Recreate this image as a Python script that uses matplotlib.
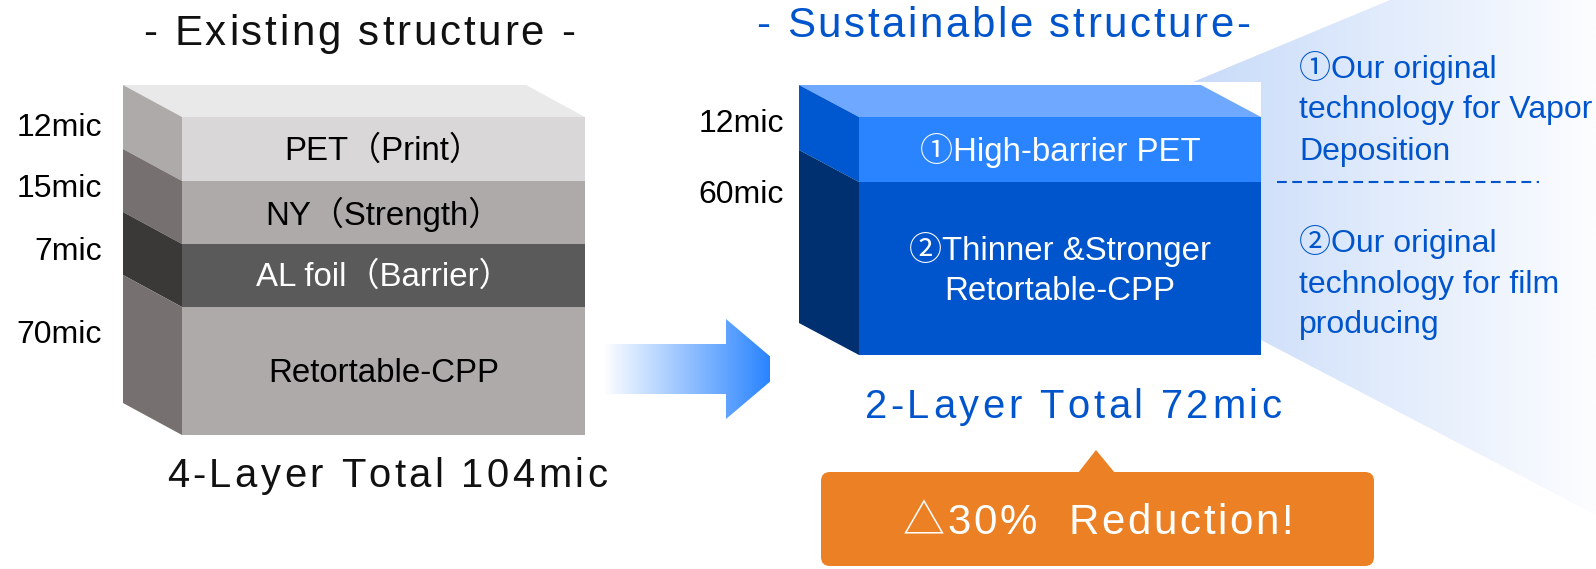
import numpy as np
import matplotlib
matplotlib.use("Agg")
import matplotlib.pyplot as plt
from matplotlib.patches import Polygon, FancyBboxPatch
from matplotlib.font_manager import FontProperties
from matplotlib.colors import to_rgb

plt.rcParams['lines.scale_dashes'] = False
FAM = ['Liberation Sans', 'Noto Sans CJK JP', 'DejaVu Sans']

# ---------------- data ----------------
left_title = "- Existing structure -"
right_title = "- Sustainable structure-"
left_layer_labels = ["PET（Print）", "NY（Strength）", "AL foil（Barrier）", "Retortable-CPP"]
left_thickness = ["12mic", "15mic", "7mic", "70mic"]
left_total = "4-Layer Total 104mic"
right_layer_labels = ["①High-barrier PET", "②Thinner &Stronger\nRetortable-CPP"]
right_thickness = ["12mic", "60mic"]
right_total = "2-Layer Total 72mic"
reduction_text = "△30%  Reduction!"
panel_text_1 = ["①Our original", "technology for Vapor", "Deposition"]
panel_text_2 = ["②Our original", "technology for film", "producing"]

# ---------------- layout / style ----------------
W, H = 1596, 569
DPI = 100
fig = plt.figure(figsize=(W / DPI, H / DPI), dpi=DPI)
ax = fig.add_axes([0, 0, 1, 1])
ax.set_xlim(0, W)
ax.set_ylim(H, 0)
ax.axis('off')
renderer = fig.canvas.get_renderer()

BLUE = '#0055cc'

def px2pt(px):
    return px * 72.0 / DPI

def measure(s, prop):
    w, h, d = renderer.get_text_width_height_descent(s, prop, ismath=False)
    return w

def tracked(x, y, s, px, color, track, ha='center'):
    prop = FontProperties(family=FAM, size=px2pt(px))
    base = measure('||', prop)
    adv = [measure('|' + c + '|', prop) - base for c in s]
    total = sum(adv) + track * (len(s) - 1)
    cur = x - total / 2 if ha == 'center' else x
    for c, a in zip(s, adv):
        if not c.isspace():
            ax.text(cur, y, c, fontproperties=prop, color=color,
                    ha='left', va='baseline', zorder=10)
        cur += a + track

def gradient_poly(verts, x0, x1, c0, c1, zorder):
    poly = Polygon(verts, closed=True, facecolor='none', edgecolor='none')
    ax.add_patch(poly)
    n = 256
    t = np.linspace(0, 1, n)
    c0 = np.array(to_rgb(c0)); c1 = np.array(to_rgb(c1))
    img = (c0[None, :] * (1 - t[:, None]) + c1[None, :] * t[:, None])[None, :, :]
    im = ax.imshow(img, extent=[x0, x1, H, 0], aspect='auto',
                   interpolation='bilinear', zorder=zorder)
    im.set_clip_path(poly)
    return im

def block(x0, x1, ys, dx, dy, front, side, top, z=3):
    ax.add_patch(Polygon([(x0 - dx, ys[0] - dy), (x1 - dx, ys[0] - dy),
                          (x1, ys[0]), (x0, ys[0])], closed=True,
                         facecolor=top, edgecolor='none', zorder=z))
    for i in range(len(ys) - 1):
        yt, yb = ys[i], ys[i + 1]
        ax.add_patch(Polygon([(x0, yt), (x1, yt), (x1, yb), (x0, yb)],
                             closed=True, facecolor=front[i], edgecolor='none', zorder=z))
        ax.add_patch(Polygon([(x0 - dx, yt - dy), (x0, yt), (x0, yb), (x0 - dx, yb - dy)],
                             closed=True, facecolor=side[i], edgecolor='none', zorder=z))

# ---- right info panel (behind the blue block) ----
panel = [(1193, 82), (1390, 0), (W, 0), (W, 515), (1261, 340), (1261, 82)]
gradient_poly(panel, 1190, W, '#c8dbf9', '#fcfdff', zorder=1)

# ---- left block ----
L_x0, L_x1 = 182, 585
L_ys = [117, 181, 244, 307, 435]
block(L_x0, L_x1, L_ys, 59, 32,
      front=['#d9d7d7', '#aeaaa9', '#5a5a5a', '#aeaaa9'],
      side=['#aeaaa9', '#767170', '#3b3937', '#767170'],
      top='#e9e9e9')
lab_px = 33
for i, s in enumerate(left_layer_labels):
    yc = (L_ys[i] + L_ys[i + 1]) / 2
    ax.text((L_x0 + L_x1) / 2, yc + 2, s, family=FAM, fontsize=px2pt(lab_px),
            color='white' if i == 2 else 'black', ha='center', va='center', zorder=10)
left_mic_y = [136, 197, 260, 343]
for s, y in zip(left_thickness, left_mic_y):
    ax.text(102, y, s, family=FAM, fontsize=px2pt(32), color='black',
            ha='right', va='baseline', zorder=10)

# ---- right block ----
R_x0, R_x1 = 859, 1261
R_ys = [117, 182, 355]
block(R_x0, R_x1, R_ys, 60, 32,
      front=['#2a84ff', '#0055cc'],
      side=['#0058d0', '#003070'],
      top='#6fa8ff')
ax.text((R_x0 + R_x1) / 2, 161, right_layer_labels[0], family=FAM,
        fontsize=px2pt(lab_px), color='white', ha='center', va='baseline', zorder=10)
for j, line in enumerate(right_layer_labels[1].split('\n')):
    ax.text((R_x0 + R_x1) / 2, 260 + 40 * j, line, family=FAM,
            fontsize=px2pt(lab_px), color='white', ha='center', va='baseline', zorder=10)
for s, y in zip(right_thickness, [132, 203]):
    ax.text(784, y, s, family=FAM, fontsize=px2pt(32), color='black',
            ha='right', va='baseline', zorder=10)

# ---- arrow ----
arrow = [(605, 344), (726, 344), (726, 319), (785, 369), (726, 419), (726, 394), (605, 394)]
gradient_poly(arrow, 603, 770, '#ffffff', '#2a84ff', zorder=2)

# ---- titles / totals ----
tracked(359, 45, left_title, 42, '#111111', 2.8)
tracked(1003, 37, right_title, 42, BLUE, 2.6)
tracked(387, 487, left_total, 40, '#111111', 3.4)
tracked(1073, 418, right_total, 40, BLUE, 3.5)

# ---- callout ----
ORANGE = '#ec8025'
ax.add_patch(FancyBboxPatch((821, 472), 1374 - 821, 566 - 472,
                            boxstyle='round,pad=0,rounding_size=9',
                            facecolor=ORANGE, edgecolor='none', zorder=4))
ax.add_patch(Polygon([(1078, 473), (1096, 450), (1115, 473)], closed=True,
                     facecolor=ORANGE, edgecolor='none', zorder=4))
tracked(1098, 534, reduction_text, 42, 'white', 2.7)

# ---- panel text ----
for lines, ys in ((panel_text_1, [78, 118, 160]), (panel_text_2, [252, 293, 333])):
    for s, y in zip(lines, ys):
        ax.text(1299, y, s, family=FAM, fontsize=px2pt(32), color=BLUE,
                ha='left', va='baseline', zorder=10)
ax.plot([1277, 1539], [182, 182], color=BLUE, lw=1.5, dashes=(7, 4), zorder=10)

fig.savefig('out.png', dpi=DPI)
